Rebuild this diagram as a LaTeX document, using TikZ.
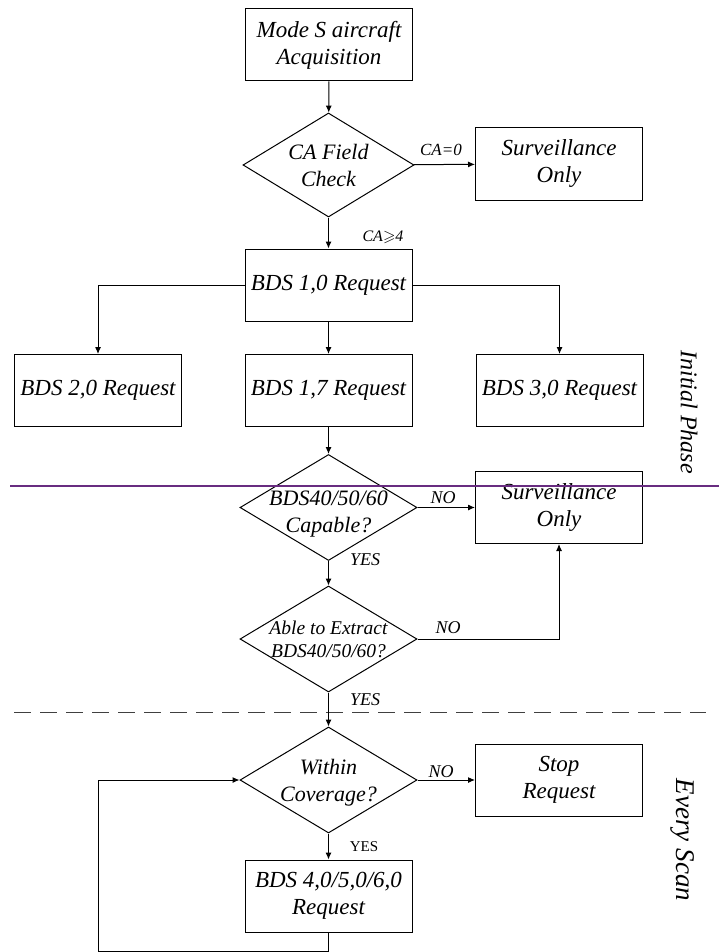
\documentclass[tikz,border=0pt]{standalone}
\usepackage{amsmath, amssymb}
\usepackage{fontspec}
\setmainfont{Liberation Serif}
\usetikzlibrary{positioning, shapes.geometric, arrows.meta}

\definecolor{phaseline}{RGB}{104,44,128}
\tikzset{
    box/.style={draw, rectangle, minimum width=167pt, minimum height=72pt, inner sep=2pt,
        align=center, font=\fontsize{23}{27}\selectfont\itshape},
    decision/.style={draw, diamond, minimum width=177pt, minimum height=106pt, inner sep=0pt},
    dtext/.style={align=center, font=\fontsize{22}{27}\selectfont\itshape},
    lbl/.style={font=\fontsize{18}{20}\selectfont\itshape, inner sep=1pt},
    arr/.style={-{Latex[length=7pt,width=6pt]}, line width=1pt},
}

\begin{document}
\begin{tikzpicture}[x=1pt, y=-1pt, line width=1pt]
        \useasboundingbox (0,0) rectangle (719,952);
        \node[box] (acq)   at (329,45)    {Mode S aircraft\\Acquisition};
        \node[decision, minimum width=171pt, minimum height=104pt,
              label={[dtext]center:{CA Field\\Check}}] (cachk) at (328.5,165) {};
        \node[box] (surv1) at (559,164)   {Surveillance\\Only};
        \node[box] (bds10) at (328.5,285) {BDS 1,0 Request};
        \node[box] (bds20) at (98,390.5)  {BDS 2,0 Request};
        \node[box] (bds17) at (328.5,390.5) {BDS 1,7 Request};
        \node[box] (bds30) at (559.5,390.5) {BDS 3,0 Request};
        \node[decision, label={[dtext, yshift=-7pt]center:{BDS40/50/60\\Capable?}}] (cap) at (328.5,507.5) {};
        \node[box] (surv2) at (559,507.5) {Surveillance\\Only};
        \node[decision, label={[dtext, font=\fontsize{19.5}{23}\selectfont\itshape]center:{Able to Extract\\BDS40/50/60?}}]
              (ext) at (328.5,639) {};
        \node[decision, label={[dtext, yshift=-3pt]center:{Within\\Coverage?}}] (cov) at (328.5,780) {};
        \node[box] (stop)  at (559,780)   {Stop\\Request};
        \node[box] (bds40) at (328.5,896) {BDS 4,0/5,0/6,0\\Request};
        \coordinate (loopc) at (98,951);

        % phase labels and separators
        \draw[phaseline, line width=1.6pt] (10,486) -- (719,486);
        \draw[black!75, dash pattern=on 17pt off 9pt] (14,712) -- (706,712);
        \node[rotate=-90, font=\fontsize{24}{28}\selectfont\itshape] (initph) at (689,412) {Initial Phase};
        \node[rotate=-90, font=\fontsize{27}{30}\selectfont\itshape] (every) at (683,840) {Every Scan};

        \draw[arr] (acq) -- (cachk);
        \draw[arr] (cachk) -- (surv1);
        \draw[arr] (cachk) -- (bds10);
        \draw[arr] (bds10.west) -| (bds20.north);
        \draw[arr] (bds10) -- (bds17);
        \draw[arr] (bds10.east) -| (bds30.north);
        \draw[arr] (bds17) -- (cap);
        \draw[arr] (cap) -- (surv2);
        \draw[arr] (cap) -- (ext);
        \draw[arr] (ext.east) -| (surv2.south);
        \draw[arr] (ext) -- (cov);
        \draw[arr] (cov) -- (stop);
        \draw[arr] (cov) -- (bds40);
        \draw[arr] (bds40.south) |- (loopc) |- (cov.west);

        \node[lbl, font=\fontsize{17}{20}\selectfont\itshape] (ca0) at (441,150) {CA=0};
        \node[lbl, font=\fontsize{16}{20}\selectfont\itshape] (ca4) at (383,237) {CA$\geqslant$4};
        \node[lbl] (no1)  at (443,498) {NO};
        \node[lbl] (yes1) at (365,560) {YES};
        \node[lbl] (no2)  at (448,628) {NO};
        \node[lbl] (yes2) at (365,700) {YES};
        \node[lbl] (no3)  at (441,772) {NO};
        \node[lbl, font=\fontsize{15}{18}\selectfont] (yes3) at (364,847) {YES};
    \end{tikzpicture}
\end{document}
